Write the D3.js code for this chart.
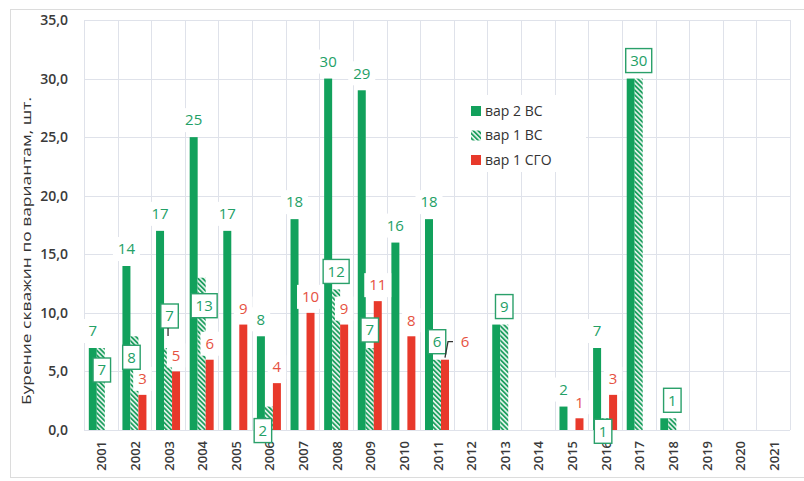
<!DOCTYPE html>
<html>
<head>
<meta charset="utf-8">
<script src="https://cdn.jsdelivr.net/npm/d3@7/dist/d3.min.js"></script>
<style>
  body { margin: 0; background: #fff; }
  text { font-family: "Open Sans", "DejaVu Sans", sans-serif; }
</style>
</head>
<body>
<svg id="chart" width="804" height="481"></svg>
<script>
// Drilling schedule: wells per year by scenario
const years = ["2001","2002","2003","2004","2005","2006","2007","2008","2009","2010","2011",
               "2012","2013","2014","2015","2016","2017","2018","2019","2020","2021"];
const var2VS  = [7,14,17,25,17,8,18,30,29,16,18,0,9,0,2,7,30,1,0,0,0];
const var1VS  = [7,8,7,13,0,2,0,12,7,0,6,0,9,0,0,1,30,1,0,0,0];
const var1SGO = [0,3,5,6,9,4,10,9,11,8,6,0,0,0,1,3,0,0,0,0,0];
const seriesNames = ["вар 2 ВС", "вар 1 ВС", "вар 1 СГО"];
const yTicks = [0, 5, 10, 15, 20, 25, 30, 35];
const yTitle = "Бурение скважин по вариантам, шт.";

// Years where the boxed callout of the hatched series replaces the plain label
const sharedLabelYears = ["2013", "2017", "2018"];

// Manually placed callouts for the hatched series (offset from bar top, px)
const boxOffsets = {
  "2001": [1, 22], "2002": [-3, 21], "2003": [1.5, -32], "2004": [2.5, 28],
  "2006": [-6, 24], "2016": [-2, 13]
};
const defaultBoxOffset = [0, -18];

const GREEN = "#12a15c", RED = "#e8392b";
const GREEN_TXT = "#23a066", RED_TXT = "#e65242";
const GRID = "#dfe2ea";

const svg = d3.select("#chart");
const M = { left: 84, right: 790, top: 20, bottom: 430 };

// Hatch pattern for the "вар 1 ВС" series
const defs = svg.append("defs");
const pat = defs.append("pattern")
  .attr("id", "hatch").attr("patternUnits", "userSpaceOnUse")
  .attr("width", 3.4).attr("height", 3.4)
  .attr("patternTransform", "rotate(-45)");
pat.append("rect").attr("width", 3.4).attr("height", 3.4).attr("fill", "#e9f6ef");
pat.append("rect").attr("width", 1.8).attr("height", 3.4).attr("fill", "#1f9f60");

// Outer frame
svg.append("rect").attr("x", 10.5).attr("y", 9.5).attr("width", 800).attr("height", 468)
  .attr("fill", "#fff").attr("stroke", "#dcdcdc");

const x = d3.scaleBand().domain(years).range([M.left, M.right]).padding(0);
const y = d3.scaleLinear().domain([0, 35]).range([M.bottom, M.top]);
const barW = 8;
const xs = d3.scaleBand().domain([0, 1, 2])
  .range([x.bandwidth() / 2 - 1.5 * barW, x.bandwidth() / 2 + 1.5 * barW]);

// Gridlines
const grid = svg.append("g");
grid.selectAll("line.h").data(yTicks).join("line")
  .attr("x1", M.left).attr("x2", M.right)
  .attr("y1", d => Math.round(y(d)) + 0.5).attr("y2", d => Math.round(y(d)) + 0.5)
  .attr("stroke", GRID);
const bounds = years.map(d => x(d)).concat([M.right]);
grid.selectAll("line.v").data(bounds).join("line")
  .attr("x1", d => Math.round(d) + 0.5).attr("x2", d => Math.round(d) + 0.5)
  .attr("y1", M.top).attr("y2", M.bottom)
  .attr("stroke", GRID);

// Y axis
const yAxis = d3.axisLeft(y).tickValues(yTicks).tickSize(0).tickPadding(0)
  .tickFormat(d => d3.format(".1f")(d).replace(".", ","));
const gy = svg.append("g").attr("transform", `translate(68,0)`).call(yAxis);
gy.select(".domain").remove();
gy.selectAll("text").attr("font-size", 14).attr("font-weight", 600)
  .attr("fill", "#3a3a3a").attr("font-family", '"Open Sans", sans-serif');

// X axis
const xAxis = d3.axisBottom(x).tickSize(0);
const gx = svg.append("g").attr("transform", `translate(0,${M.bottom})`).call(xAxis);
gx.select(".domain").remove();
gx.selectAll("text")
  .attr("font-size", 13).attr("font-weight", 600).attr("fill", "#3a3a3a")
  .attr("font-family", '"Open Sans", sans-serif')
  .attr("text-anchor", "end").attr("x", 0).attr("y", 0).attr("dy", "0.35em")
  .attr("transform", "translate(1,11) rotate(-90)");

// Y title
svg.append("text")
  .attr("transform", `translate(26,251) rotate(-90)`)
  .attr("x", -154).attr("dy", "0.35em")
  .attr("font-size", 13.5).attr("fill", "#333")
  .attr("textLength", 308).attr("lengthAdjust", "spacingAndGlyphs")
  .text(yTitle);

// Bars
const series = [
  { values: var2VS, fill: GREEN },
  { values: var1VS, fill: "url(#hatch)" },
  { values: var1SGO, fill: RED }
];
const barsG = svg.append("g");
series.forEach((s, si) => {
  barsG.append("g").selectAll("rect")
    .data(years.map((yr, i) => ({ yr, v: s.values[i] })).filter(d => d.v > 0))
    .join("rect")
    .attr("x", d => x(d.yr) + xs(si))
    .attr("width", xs.bandwidth())
    .attr("y", d => y(d.v))
    .attr("height", d => y(0) - y(d.v))
    .attr("fill", s.fill);
});

// Value labels
const labelsG = svg.append("g");
function plainLabel(cx, cy, txt, color) {
  const g = labelsG.append("g");
  const r = g.append("rect").attr("fill", "#fff");
  const t = g.append("text").attr("x", cx).attr("y", cy).attr("dy", "0.35em")
    .attr("text-anchor", "middle").attr("font-size", 15).attr("fill", color).text(txt);
  const w = txt.length * 8.5 + 10;
  r.attr("x", cx - w / 2).attr("y", cy - 12).attr("width", w).attr("height", 24);
}
function boxLabel(cx, cy, txt) {
  const g = labelsG.append("g");
  const r = g.append("rect").attr("fill", "#fff").attr("stroke", "#2aa06a").attr("stroke-width", 1.4);
  g.append("text").attr("x", cx).attr("y", cy).attr("dy", "0.35em")
    .attr("text-anchor", "middle").attr("font-size", 15).attr("fill", GREEN_TXT).text(txt);
  const w = txt.length * 8.5 + 9;
  r.attr("x", cx - w / 2).attr("y", cy - 12).attr("width", w).attr("height", 24);
}

// Leader lines
const leaders = svg.append("g").attr("stroke", "#333").attr("stroke-width", 1.3).attr("fill", "none");

years.forEach((yr, i) => {
  const v2 = var2VS[i], v1 = var1VS[i], s = var1SGO[i];
  if (v2 > 0 && !sharedLabelYears.includes(yr))
    plainLabel(x(yr) + xs(0) + barW / 2, y(v2) - 17, String(v2), GREEN_TXT);
  if (s > 0) {
    const rc = x(yr) + xs(2) + barW / 2;
    if (yr === "2011") {
      const lx = rc + 20, ly = y(s) - 18;
      plainLabel(lx, ly, String(s), RED_TXT);
      leaders.append("path")
        .attr("d", `M${lx - 12},${ly} L${rc + 3},${ly} L${rc},${y(s) - 2}`);
    } else {
      plainLabel(rc, y(s) - 16, String(s), RED_TXT);
    }
  }
  if (v1 > 0) {
    const hc = x(yr) + xs(1) + barW / 2;
    const off = boxOffsets[yr] || defaultBoxOffset;
    const bx = hc + off[0], by = y(v1) + off[1];
    if (yr === "2003") {
      leaders.append("line").attr("x1", bx - 1.5).attr("x2", bx - 1.5)
        .attr("y1", by + 12).attr("y2", by + 20);
    }
    boxLabel(bx, by, String(v1));
  }
});

// Legend
const lg = svg.append("g");
lg.append("rect").attr("x", 458).attr("y", 95).attr("width", 128).attr("height", 77).attr("fill", "#fff");
const legendFills = [GREEN, "url(#hatch)", RED];
seriesNames.forEach((name, i) => {
  const cy = 111 + i * 24.5;
  lg.append("rect").attr("x", 471).attr("y", cy - 5).attr("width", 10).attr("height", 10)
    .attr("fill", legendFills[i]);
  lg.append("text").attr("x", 485).attr("y", cy).attr("dy", "0.35em")
    .attr("font-size", 14).attr("fill", "#333").text(name);
});
</script>
</body>
</html>
